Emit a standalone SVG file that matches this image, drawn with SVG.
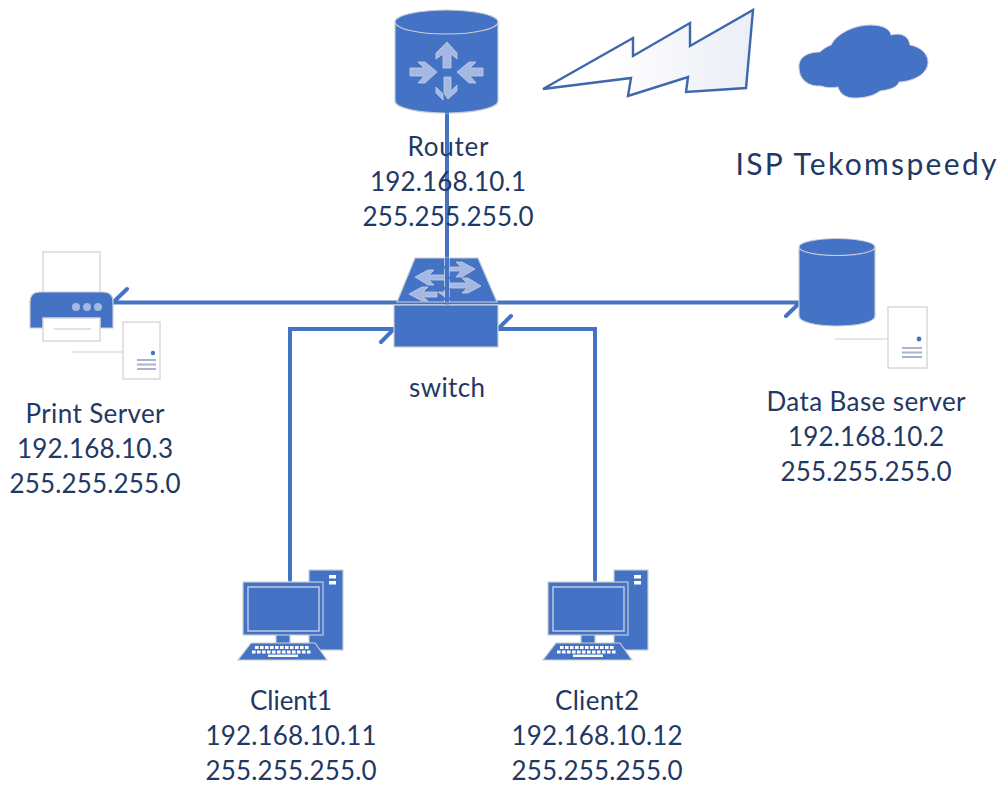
<svg xmlns="http://www.w3.org/2000/svg" width="1000" height="785" viewBox="0 0 1000 785">
<style>
.b{fill:#4472c4;stroke:#c9cdd6;stroke-width:1.2}
.w{fill:#fff;stroke:#d9d9d9;stroke-width:1.5}
.a{fill:#a3b8e2;stroke:#c5cfe2;stroke-width:.8}
.c{fill:none;stroke:#4472c4;stroke-width:4;stroke-linecap:round}
.g{fill:none;stroke:#a9b4cc;stroke-width:1.8}
text{font-family:"Lato","Liberation Sans",sans-serif;font-size:26px;fill:#1f3864;text-anchor:middle}
</style>
<defs>
<linearGradient id="bolt" x1="0" x2="1" y1="0" y2="0"><stop offset="0.3" stop-color="#fff"/><stop offset="1" stop-color="#eceef6"/></linearGradient>
<g id="pc">
<rect class="b" x="309" y="570" width="34" height="80"/>
<rect x="329" y="575" width="7" height="3.500" fill="#fff"/><rect x="329" y="581" width="7" height="3.500" fill="#fff"/>
<rect class="b" x="276" y="634" width="14" height="10"/>
<rect class="b" x="243" y="582" width="80" height="53"/>
<rect x="248" y="587" width="71" height="44" fill="none" stroke="#c3d0ec" stroke-width="1.400"/>
<path class="b" d="M251 643H315L327 660H238Z"/>
<g stroke="#fff" stroke-width="3" stroke-dasharray="3.600 1.400"><path d="M255 647.500H309"/><path d="M252 652H312"/></g>
<path d="M268 655.800H298" stroke="#fff" stroke-width="2.400"/>
</g>
</defs>
<g id="connectors">
<path class="c" d="M447 113V305"/>
<path class="c" d="M127 289L113 302.500H800L786 316"/>
<path class="c" d="M290 580V329H394L381 342"/>
<path class="c" d="M595 580V329H498L511 316"/>
</g>
<g id="router">
<path class="b" d="M395 22V101C395 108 418 113 446 113S498 108 498 101V22Z"/>
<ellipse class="b" cx="446.500" cy="22" rx="51.500" ry="12"/>
<path class="a" d="M447 42L457 53V59L451 54V68H443V54L436 59V53Z"/>
<path class="a" d="M437 72L425 62H418L424 68H410V76H424L418 83H425Z"/>
<path class="a" d="M457 72L469 62H476L470 68H483V76H470L476 83H469Z"/>
<path class="a" d="M444 77H451V91L457 85V91L448 99L444 93Z"/>
<path class="a" d="M436 87L443 94V100L436 93Z"/>
<path d="M447 113V110" stroke="#4472c4" stroke-width="4"/>
</g>
<g id="isp-link"><path d="M543 89L633 38V56L690 23V46L753 10L746 88L686 92L688 77L628 96L631 78Z" fill="url(#bolt)" stroke="#3f67ad" stroke-width="2.400" stroke-linejoin="miter"/></g>
<g id="cloud"><path d="M799 68C798 57 808 52 820 52C823 49 826 47 831 45C837 33 855 25 870 25C883 25 890 29 891 35C902 32 909 37 910 45C921 47 928 54 928 62C928 72 917 81 899 82C897 88 888 90 880 91C872 97 862 98 854 98C846 98 840 94 838 87C833 88 826 88 821 86C808 87 799 79 799 68Z" fill="#4472c4" stroke="#d0d3da" stroke-width="1"/></g>
<text x="866" y="175" style="font-size:30px" textLength="261" lengthAdjust="spacing">ISP Tekomspeedy</text>
<g id="router-label">
<text x="448" y="156" textLength="81">Router</text>
<text x="448" y="191" textLength="156">192.168.10.1</text>
<text x="448" y="226" textLength="171">255.255.255.0</text>
</g>
<g id="switch">
<path class="b" d="M415 258H478L497 302H397Z"/>
<rect class="b" x="394" y="305" width="104" height="42"/>
<path class="a" d="M415 277L428 270H434L429 275H445V280H429L434 285H428Z"/>
<path class="a" d="M409 294L422 287H428L423 292H437V297H423L428 301H422Z"/>
<path class="a" d="M438 292H445V297Z"/>
<path class="a" d="M475 269L462 262H456L461 267H449V271H461L456 277H462Z"/>
<path class="a" d="M481 286L468 278H462L467 283H449V288H467L462 293H468Z"/>
<path d="M444.500 258V302M449.300 258V302" stroke="#c5cfe2" stroke-width=".9" stroke-dasharray="8 2.500"/>
<path d="M447 258V302" stroke="#4472c4" stroke-width="4"/>
<text x="447" y="397" textLength="76">switch</text>
</g>
<g id="print-server">
<rect class="w" x="43" y="252" width="57" height="42"/>
<path class="b" d="M40 292H103Q113 292 113 302V328H30V302Q30 292 40 292Z"/>
<rect class="w" x="43" y="318" width="57" height="23"/>
<path d="M54 329H91" stroke="#d9d9d9" stroke-width="1.500"/>
<circle cx="76" cy="307" r="4" fill="#a3b8e2"/><circle cx="87" cy="307" r="4" fill="#a3b8e2"/><circle cx="98" cy="307" r="4" fill="#a3b8e2"/>
<path d="M72 352H123" stroke="#c9cdd6" stroke-width="1.200"/>
<rect class="w" x="123" y="322" width="37" height="57"/>
<circle cx="153" cy="353" r="2.200" fill="#4472c4"/>
<path class="g" d="M137 360H156M137 364.500H156M137 369H156"/>
<text x="95" y="423" textLength="139">Print Server</text>
<text x="95" y="458" textLength="156">192.168.10.3</text>
<text x="95" y="493" textLength="171">255.255.255.0</text>
</g>
<g id="database-server">
<path class="b" d="M799 247V316C799 322 816 326 837 326S875 322 875 316V247Z"/>
<ellipse class="b" cx="837" cy="247" rx="38" ry="8.500"/>
<path d="M835 339H888" stroke="#c9cdd6" stroke-width="1.200"/>
<rect class="w" x="888" y="307" width="39" height="61"/>
<circle cx="919" cy="339" r="2.400" fill="#4472c4"/>
<path class="g" d="M902 348H922M902 352.500H922M902 357H922"/>
<text x="866" y="411" textLength="199">Data Base server</text>
<text x="866" y="446" textLength="156">192.168.10.2</text>
<text x="866" y="481" textLength="171">255.255.255.0</text>
</g>
<g id="client1">
<use href="#pc"/>
<text x="291" y="710" textLength="82">Client1</text>
<text x="291" y="745" textLength="171">192.168.10.11</text>
<text x="291" y="780" textLength="171">255.255.255.0</text>
</g>
<g id="client2">
<use href="#pc" x="305"/>
<text x="597" y="710" textLength="84">Client2</text>
<text x="597" y="745" textLength="171">192.168.10.12</text>
<text x="597" y="780" textLength="171">255.255.255.0</text>
</g>
</svg>
